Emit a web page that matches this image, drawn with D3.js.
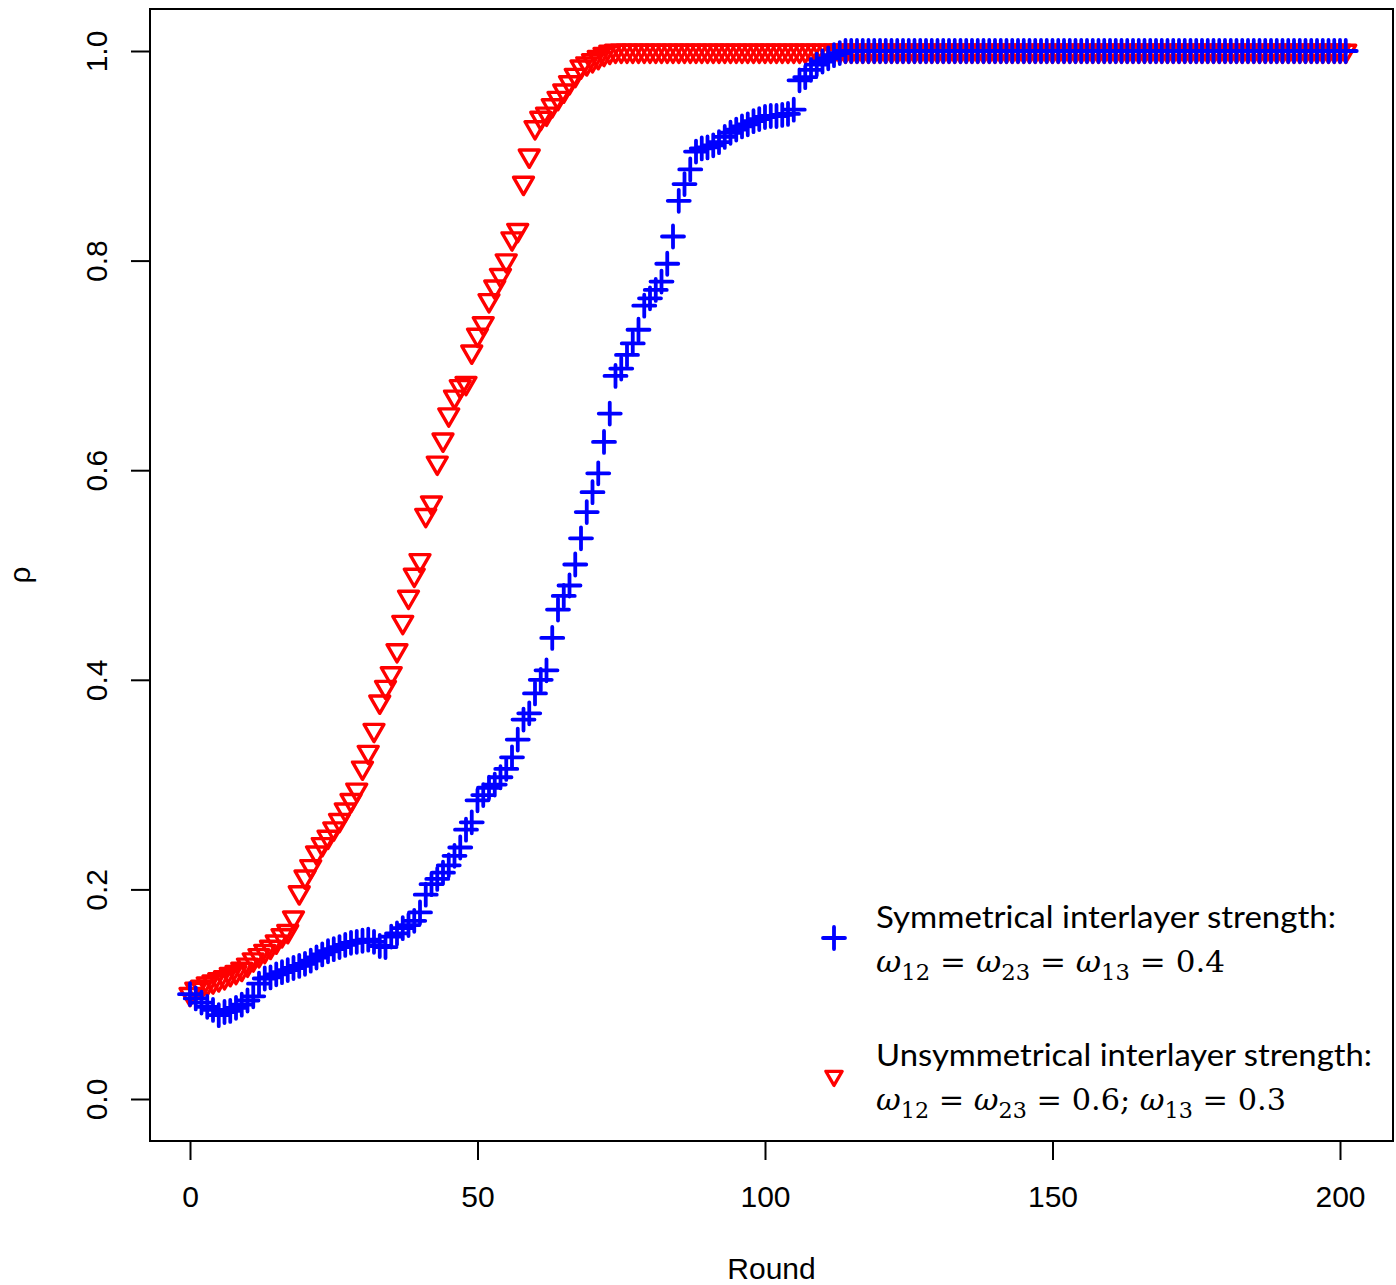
<!DOCTYPE html>
<html>
<head>
<meta charset="utf-8">
<script src="https://cdn.jsdelivr.net/npm/d3@7"></script>
<style>
  html, body { margin: 0; padding: 0; background: #fff; }
  svg { display: block; }
</style>
</head>
<body>
<div id="chart"></div>
<script>
// ---------------- DATA ----------------
const rounds = d3.range(0, 202);
const xTicks = [0, 50, 100, 150, 200];
const yTicks = [0.0, 0.2, 0.4, 0.6, 0.8, 1.0];
const yTickLabels = ["0.0", "0.2", "0.4", "0.6", "0.8", "1.0"];
const xTitle = "Round";
const yTitle = "ρ";

// Symmetrical interlayer strength (blue +)
const symmetrical = [
  0.100, 0.096, 0.092, 0.088, 0.085, 0.080, 0.083, 0.084, 0.087, 0.090,
  0.094, 0.098, 0.110, 0.115, 0.116, 0.119, 0.121, 0.123, 0.125, 0.127,
  0.129, 0.132, 0.135, 0.138, 0.141, 0.143, 0.145, 0.147, 0.149, 0.150,
  0.151, 0.152, 0.150, 0.146, 0.145, 0.155, 0.158, 0.163, 0.166, 0.170,
  0.178, 0.195, 0.205, 0.210, 0.216, 0.223, 0.232, 0.240, 0.257, 0.264,
  0.285, 0.290, 0.297, 0.300, 0.307, 0.315, 0.326, 0.343, 0.362, 0.368,
  0.387, 0.400, 0.409, 0.440, 0.467, 0.480, 0.490, 0.510, 0.535, 0.560,
  0.579, 0.597, 0.627, 0.654, 0.690, 0.697, 0.710, 0.721, 0.734, 0.757,
  0.764, 0.772, 0.780, 0.797, 0.823, 0.857, 0.873, 0.887, 0.904, 0.907,
  0.908, 0.910, 0.913, 0.918, 0.922, 0.925, 0.928, 0.930, 0.933, 0.935,
  0.937, 0.938, 0.938, 0.939, 0.940, 0.944, 0.972, 0.975, 0.982, 0.987,
  0.990, 0.993, 0.996, 0.998, 1, 1, 1, 1, 1, 1,
  1, 1, 1, 1, 1, 1, 1, 1, 1, 1,
  1, 1, 1, 1, 1, 1, 1, 1, 1, 1,
  1, 1, 1, 1, 1, 1, 1, 1, 1, 1,
  1, 1, 1, 1, 1, 1, 1, 1, 1, 1,
  1, 1, 1, 1, 1, 1, 1, 1, 1, 1,
  1, 1, 1, 1, 1, 1, 1, 1, 1, 1,
  1, 1, 1, 1, 1, 1, 1, 1, 1, 1,
  1, 1, 1, 1, 1, 1, 1, 1, 1, 1,
  1, 1
];

// Unsymmetrical interlayer strength (red inverted triangle)
const unsymmetrical = [
  0.100, 0.105, 0.107, 0.110, 0.112, 0.114, 0.116, 0.119, 0.121, 0.124,
  0.128, 0.133, 0.137, 0.141, 0.145, 0.150, 0.156, 0.160, 0.173, 0.197,
  0.212, 0.222, 0.235, 0.243, 0.250, 0.258, 0.266, 0.276, 0.285, 0.295,
  0.316, 0.331, 0.352, 0.379, 0.393, 0.406, 0.428, 0.455, 0.479, 0.500,
  0.514, 0.557, 0.569, 0.607, 0.629, 0.653, 0.670, 0.680, 0.683, 0.713,
  0.729, 0.740, 0.762, 0.775, 0.786, 0.800, 0.821, 0.829, 0.874, 0.900,
  0.927, 0.936, 0.940, 0.948, 0.955, 0.962, 0.970, 0.977, 0.985, 0.988,
  0.991, 0.994, 0.997, 0.999, 1, 1, 1, 1, 1, 1,
  1, 1, 1, 1, 1, 1, 1, 1, 1, 1,
  1, 1, 1, 1, 1, 1, 1, 1, 1, 1,
  1, 1, 1, 1, 1, 1, 1, 1, 1, 1,
  1, 1, 1, 1, 1, 1, 1, 1, 1, 1,
  1, 1, 1, 1, 1, 1, 1, 1, 1, 1,
  1, 1, 1, 1, 1, 1, 1, 1, 1, 1,
  1, 1, 1, 1, 1, 1, 1, 1, 1, 1,
  1, 1, 1, 1, 1, 1, 1, 1, 1, 1,
  1, 1, 1, 1, 1, 1, 1, 1, 1, 1,
  1, 1, 1, 1, 1, 1, 1, 1, 1, 1,
  1, 1, 1, 1, 1, 1, 1, 1, 1, 1,
  1, 1, 1, 1, 1, 1, 1, 1, 1, 1,
  1, 1
];

const legendTitles = ["Symmetrical interlayer strength:", "Unsymmetrical interlayer strength:"];
// math lines: [text, kind]  i = italic, s = subscript, n = normal
const legendMath = [
  [["ω", "i"], ["12", "s"], [" = ", "n"], ["ω", "i"], ["23", "s"], [" = ", "n"], ["ω", "i"], ["13", "s"], [" = 0.4", "n"]],
  [["ω", "i"], ["12", "s"], [" = ", "n"], ["ω", "i"], ["23", "s"], [" = 0.6; ", "n"], ["ω", "i"], ["13", "s"], [" = 0.3", "n"]]
];

// ---------------- LAYOUT ----------------
const W = 1396, H = 1285;
const box = { left: 150, top: 9, right: 1393, bottom: 1141 };
const BLUE = "#0000ff", RED = "#ff0000";
const axisFont = "'Liberation Sans', Arial, Helvetica, sans-serif";

const svg = d3.select("#chart").append("svg")
  .attr("width", W).attr("height", H)
  .attr("viewBox", `0 0 ${W} ${H}`);

const x = d3.scaleLinear().domain([0, 200]).range([190, 1340]);
const y = d3.scaleLinear().domain([0, 1]).range([1099, 51]);

// points
const crossPath = "M-11,0H11M0,-11V11";
const r = 11.5;
const triPath = `M0,${r}L${-r * Math.sqrt(3) / 2},${-r / 2}L${r * Math.sqrt(3) / 2},${-r / 2}Z`;

const redData = rounds.map((d, i) => ({ r: d, v: unsymmetrical[i] }));
const blueData = rounds.map((d, i) => ({ r: d, v: symmetrical[i] }));

svg.append("g").selectAll("path").data(redData).join("path")
  .attr("d", triPath)
  .attr("transform", d => `translate(${x(d.r)},${y(d.v)})`)
  .attr("fill", "none").attr("stroke", RED).attr("stroke-width", 3.4)
  .attr("stroke-linejoin", "round");

svg.append("g").selectAll("path").data(blueData).join("path")
  .attr("d", crossPath)
  .attr("transform", d => `translate(${x(d.r)},${y(d.v)})`)
  .attr("fill", "none").attr("stroke", BLUE).attr("stroke-width", 3.8)
  .attr("stroke-linecap", "round");

// box
svg.append("rect")
  .attr("x", box.left).attr("y", box.top)
  .attr("width", box.right - box.left).attr("height", box.bottom - box.top)
  .attr("fill", "none").attr("stroke", "#000").attr("stroke-width", 2);

// x axis
const xAxis = svg.append("g")
  .attr("transform", `translate(0,${box.bottom})`)
  .call(d3.axisBottom(x).tickValues(xTicks).tickSize(19).tickPadding(26).tickFormat(d3.format("d")));
xAxis.select(".domain").remove();
xAxis.selectAll(".tick line").attr("stroke", "#000").attr("stroke-width", 2);
xAxis.selectAll(".tick text").attr("font-family", axisFont).attr("font-size", 30).attr("fill", "#000");

// y axis
const yAxis = svg.append("g")
  .attr("transform", `translate(${box.left},0)`)
  .call(d3.axisLeft(y).tickValues(yTicks).tickSize(19).tickFormat((d, i) => yTickLabels[i]));
yAxis.select(".domain").remove();
yAxis.selectAll(".tick line").attr("stroke", "#000").attr("stroke-width", 2);
yAxis.selectAll(".tick text")
  .attr("x", null).attr("dy", null)
  .attr("transform", "translate(-43,0) rotate(-90)")
  .attr("text-anchor", "middle")
  .attr("font-family", axisFont).attr("font-size", 30).attr("fill", "#000");

// titles
svg.append("text").text(xTitle)
  .attr("x", (box.left + box.right) / 2).attr("y", 1279)
  .attr("text-anchor", "middle")
  .attr("font-family", axisFont).attr("font-size", 30).attr("fill", "#000");

svg.append("text").text(yTitle)
  .attr("transform", `translate(30,${(box.top + box.bottom) / 2}) rotate(-90)`)
  .attr("text-anchor", "middle")
  .attr("font-family", axisFont).attr("font-size", 30).attr("fill", "#000");

// legend
const legend = svg.append("g");
const legendItems = [
  { color: BLUE, kind: "cross", my: 938, t1: 928, t2: 972, idx: 0, w1: 460, w2: 349 },
  { color: RED, kind: "tri", my: 1076, t1: 1066, t2: 1110, idx: 1, w1: 496, w2: 410 }
];
const legendScale = 0.82;
legendItems.forEach(it => {
  if (it.kind === "cross") {
    legend.append("path").attr("d", crossPath)
      .attr("transform", `translate(834,${it.my})`)
      .attr("fill", "none").attr("stroke", it.color).attr("stroke-width", 3.8).attr("stroke-linecap", "round");
  } else {
    legend.append("path").attr("d", triPath)
      .attr("transform", `translate(834,${it.my}) scale(${legendScale})`)
      .attr("fill", "none").attr("stroke", it.color).attr("stroke-width", 4).attr("stroke-linejoin", "round");
  }
  legend.append("text").text(legendTitles[it.idx])
    .attr("x", 876).attr("y", it.t1)
    .attr("textLength", it.w1).attr("lengthAdjust", "spacingAndGlyphs")
    .attr("font-family", "Lato, 'Open Sans', sans-serif").attr("font-size", 31).attr("fill", "#000");
  const mt = legend.append("text")
    .attr("x", 876).attr("y", it.t2)
    .attr("textLength", it.w2).attr("lengthAdjust", "spacingAndGlyphs")
    .attr("font-family", "'DejaVu Serif', 'Liberation Serif', serif").attr("font-size", 30).attr("fill", "#000");
  let shifted = false;
  legendMath[it.idx].forEach(([s, k]) => {
    const ts = mt.append("tspan").text(s.replace(/ /g, "\u00a0"));
    if (k === "i") ts.attr("font-style", "italic");
    if (k === "s") { ts.attr("font-size", 22).attr("dy", 8); shifted = true; }
    else if (shifted) { ts.attr("dy", -8); shifted = false; }
  });
});
</script>
</body>
</html>
